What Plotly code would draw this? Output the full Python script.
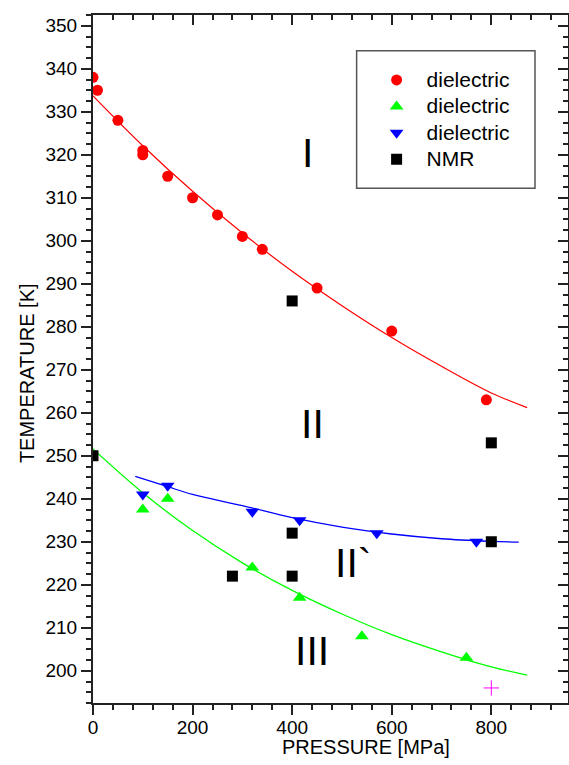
import plotly.graph_objects as go

# ---------------- data ----------------
red_p = [0, 9, 50, 100, 100, 150, 200, 250, 300, 340, 450, 600, 790]
red_t = [338, 335, 328, 321, 320, 315, 310, 306, 301, 298, 289, 279, 263]

green_p = [100, 150, 320, 415, 540, 750]
green_t = [237.5, 240, 224, 217, 208, 203]

blue_p = [100, 150, 320, 415, 570, 770]
blue_t = [241, 243, 237, 235, 232, 230]

nmr_p = [0, 280, 400, 400, 400, 800, 800]
nmr_t = [250, 222, 222, 232, 286, 253, 230]

plus_p = [800]
plus_t = [196]

# fitted curves
red_fit_p = [0, 100, 200, 300, 400, 500, 600, 700, 800, 872]
red_fit_t = [333.7, 322.1, 311.5, 301.8, 292.9, 284.9, 277.5, 270.8, 264.6, 261.2]
green_fit_p = [0, 100, 200, 300, 400, 500, 600, 700, 800, 872]
green_fit_t = [251.6, 241.4, 232.6, 225.1, 218.7, 213.2, 208.4, 204.4, 200.9, 199.0]
blue_fit_p = [85, 150, 200, 300, 400, 500, 600, 700, 800, 855]
blue_fit_t = [245.2, 242.8, 241.0, 238.4, 235.6, 233.4, 231.8, 230.7, 230.1, 229.9]

legend_names = ["dielectric", "dielectric", "dielectric", "NMR"]

phase_labels = ["I", "II", "II`", "III"]
phase_p = [430, 440, 522, 440]
phase_t = [320.5, 257.4, 225.0, 204.6]

x_range = [0, 954]
y_range = [192.5, 352.5]

FONT = "Liberation Sans, Arial, sans-serif"
AX = "#222222"


def leg(name):
    return '<span style="font-size:21px">' + name + '</span>'


fig = go.Figure()

# fit curves
fig.add_trace(go.Scatter(x=red_fit_p, y=red_fit_t, mode="lines", line=dict(color="#FF0000", width=1.2, shape="spline"),
                         showlegend=False, hoverinfo="skip"))
fig.add_trace(go.Scatter(x=green_fit_p, y=green_fit_t, mode="lines", line=dict(color="#00FF00", width=1.3, shape="spline"),
                         showlegend=False, hoverinfo="skip"))
fig.add_trace(go.Scatter(x=blue_fit_p, y=blue_fit_t, mode="lines", line=dict(color="#0000FF", width=1.3, shape="spline"),
                         showlegend=False, hoverinfo="skip"))

# markers
fig.add_trace(go.Scatter(x=red_p, y=red_t, mode="markers", name=leg(legend_names[0]),
                         marker=dict(symbol="circle", size=11, color="#FF0000", line=dict(width=0))))
fig.add_trace(go.Scatter(x=green_p, y=green_t, mode="markers", name=leg(legend_names[1]),
                         marker=dict(symbol="triangle-up", size=12, color="#00FF00", line=dict(width=0))))
fig.add_trace(go.Scatter(x=blue_p, y=blue_t, mode="markers", name=leg(legend_names[2]),
                         marker=dict(symbol="triangle-down", size=12, color="#0000FF", line=dict(width=0))))
fig.add_trace(go.Scatter(x=nmr_p, y=nmr_t, mode="markers", name=leg(legend_names[3]),
                         marker=dict(symbol="square", size=11, color="#000000", line=dict(width=0))))
fig.add_trace(go.Scatter(x=plus_p, y=plus_t, mode="markers", showlegend=False,
                         marker=dict(symbol="cross-thin", size=11, color="#FF00FF", line=dict(width=1, color="#FF00FF"))))

# dummy trace for mirrored (top/right) axes
fig.add_trace(go.Scatter(x=[None], y=[None], xaxis="x2", yaxis="y2", showlegend=False, hoverinfo="skip"))

common = dict(showgrid=False, zeroline=False, showline=True, linewidth=2, linecolor=AX,
              tickcolor=AX, tickwidth=1.5, ticklen=10, automargin=False,
              tickfont=dict(family=FONT, size=19, color="black"))

fig.update_layout(
    width=569, height=765, autosize=False,
    margin=dict(l=93, r=1, t=15, b=62, pad=0),
    paper_bgcolor="white", plot_bgcolor="white",
    font=dict(family=FONT, color="black"),
    xaxis=dict(range=x_range, tick0=0, dtick=200, ticks="outside", ticklabelstandoff=-4,
               minor=dict(tick0=0, dtick=40, ticks="outside", ticklen=5, tickwidth=1.5, tickcolor=AX, showgrid=False),
               **common),
    yaxis=dict(range=y_range, tick0=200, dtick=10, ticks="outside",
               minor=dict(tick0=200, dtick=2.5, ticks="outside", ticklen=5, tickwidth=1.5, tickcolor=AX, showgrid=False),
               **common),
    xaxis2=dict(range=x_range, overlaying="x", side="top", anchor="y2", tick0=0, dtick=200, ticks="inside",
                showticklabels=False,
                minor=dict(tick0=0, dtick=40, ticks="inside", ticklen=5, tickwidth=1.5, tickcolor=AX, showgrid=False),
                **common),
    yaxis2=dict(range=y_range, overlaying="y", side="right", anchor="x2", tick0=200, dtick=10, ticks="inside",
                showticklabels=False,
                minor=dict(tick0=200, dtick=2.5, ticks="inside", ticklen=5, tickwidth=1.5, tickcolor=AX, showgrid=False),
                **common),
    legend=dict(x=0.576, y=0.932, xanchor="left", yanchor="top", bgcolor="rgba(0,0,0,0)",
                borderwidth=0, font=dict(family=FONT, size=18, color="black"),
                itemwidth=50, tracegroupgap=0),
    showlegend=True,
)

# legend frame
fig.add_shape(type="rect", xref="paper", yref="paper", x0=0.555, x1=0.9305, y0=0.7481, y1=0.9481,
              line=dict(color="#555555", width=1.5), fillcolor="rgba(0,0,0,0)", layer="above")

# phase labels
for lab, px, pt in zip(phase_labels, phase_p, phase_t):
    fig.add_annotation(x=px, y=pt, xref="x", yref="y", text=lab, showarrow=False,
                       xanchor="center", yanchor="middle",
                       font=dict(family=FONT, size=41, color="black"))

# axis titles
fig.add_annotation(x=548, y=-0.064, xref="x", yref="paper", text="PRESSURE [MPa]", showarrow=False,
                   xanchor="center", yanchor="middle", font=dict(family=FONT, size=20, color="black"))
fig.add_annotation(x=-0.140, y=269.1, xref="paper", yref="y", text="TEMPERATURE [K]", showarrow=False,
                   textangle=-90, xanchor="center", yanchor="middle", font=dict(family=FONT, size=20, color="black"))

fig.write_html("out.html")
